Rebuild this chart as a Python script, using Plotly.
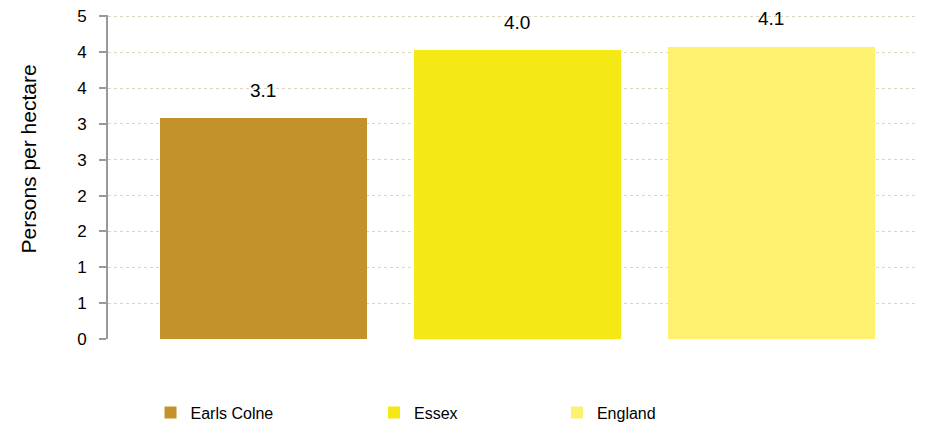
import plotly.graph_objects as go

categories = ["Earls Colne", "Essex", "England"]
values = [3.08, 4.03, 4.08]
labels = ["3.1", "4.0", "4.1"]
colors = ["#C4922B", "#F5E815", "#FFF170"]
legend_names = ["legend", "legend2", "legend3"]
tick_vals = [0, 0.5, 1, 1.5, 2, 2.5, 3, 3.5, 4, 4.5]
tick_text = ["0", "1", "1", "2", "2", "3", "3", "4", "4", "5"]
y_title = "Persons per hectare"

FONT = "Liberation Sans, Arial, sans-serif"

fig = go.Figure()
for i, (cat, val, col, lg) in enumerate(zip(categories, values, colors, legend_names)):
    fig.add_trace(go.Bar(
        x=[i], y=[val], name=cat, marker=dict(color=col, line=dict(width=0)),
        width=0.815, legend=lg, showlegend=True, hoverinfo="skip",
    ))

for i, (val, lab) in enumerate(zip(values, labels)):
    fig.add_annotation(x=i, y=val, text=lab, showarrow=False, yanchor="middle",
                       yshift=28, font=dict(family=FONT, size=19, color="#000000"))

# plot area is 826 px wide (page x 108..934)
fig.add_annotation(xref="paper", yref="paper", x=-0.0965, y=0.555, text=y_title,
                   textangle=-90, showarrow=False, xanchor="center", yanchor="middle",
                   font=dict(family=FONT, size=21, color="#000000"))

leg_common = dict(orientation="h", yanchor="middle", xanchor="left",
                  font=dict(family=FONT, size=16, color="#000000"),
                  bgcolor="rgba(0,0,0,0)", itemwidth=30)

fig.update_layout(
    width=926, height=429,
    margin=dict(l=100, r=0, t=6.6, b=97.5, autoexpand=False),
    plot_bgcolor="white", paper_bgcolor="white",
    bargap=0, showlegend=True,
    xaxis=dict(range=[-0.612, 2.640], showgrid=False, zeroline=False,
               showticklabels=False, showline=False, ticks=""),
    yaxis=dict(range=[0, 4.52], tickvals=tick_vals, ticktext=tick_text,
               automargin=False, ticklabeloverflow="allow",
               showgrid=True, gridcolor="#DCD6BC", griddash="dot", gridwidth=1,
               zeroline=False, showline=True, linecolor="#999999", linewidth=2,
               ticks="outside", ticklen=7, tickcolor="#999999", tickwidth=2,
               ticklabelstandoff=9,
               tickfont=dict(family=FONT, size=17, color="#000000")),
    legend=dict(x=0.0515, y=-0.227, **leg_common),
    legend2=dict(x=0.322, y=-0.227, **leg_common),
    legend3=dict(x=0.5435, y=-0.227, **leg_common),
)

fig.write_html("out.html")
